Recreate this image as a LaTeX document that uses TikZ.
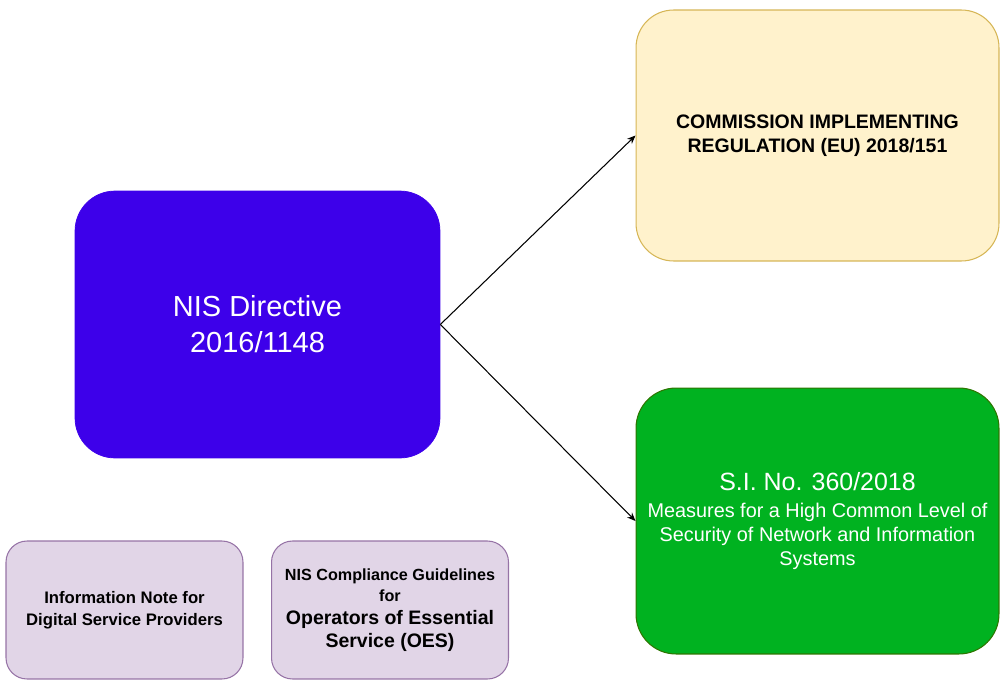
\documentclass[tikz,border=0pt]{standalone}
\usepackage{fontspec}
\setmainfont{Liberation Sans}
\usetikzlibrary{arrows.meta}

\definecolor{nisblue}{RGB}{61,0,234}
\definecolor{regfill}{RGB}{255,242,204}
\definecolor{regline}{RGB}{214,182,86}
\definecolor{sigreen}{RGB}{0,178,32}
\definecolor{siline}{RGB}{45,118,0}
\definecolor{notefill}{RGB}{225,213,231}
\definecolor{noteline}{RGB}{150,115,166}

\tikzset{
  nisbox/.style={rounded corners=0.8cm, fill=nisblue, draw=nisblue, text=white,
    minimum width=7.3cm, minimum height=5.34cm, align=center, inner sep=0pt,
    font=\fontsize{16.5}{20.5}\selectfont},
  regbox/.style={rounded corners=0.75cm, fill=regfill, draw=regline, line width=0.6pt,
    minimum width=7.26cm, minimum height=5.02cm, align=center, inner sep=0pt,
    font=\fontsize{11.1}{13.66}\selectfont\bfseries},
  sibox/.style={rounded corners=0.8cm, fill=sigreen, draw=siline, line width=0.6pt, text=white,
    minimum width=7.26cm, minimum height=5.32cm, align=center, inner sep=0pt,
    font=\fontsize{11.3}{13.66}\selectfont},
  notebox/.style={rounded corners=0.42cm, fill=notefill, draw=noteline, line width=0.6pt,
    minimum width=4.74cm, minimum height=2.76cm, align=center, inner sep=0pt,
    font=\fontsize{9.5}{12.5}\selectfont\bfseries},
  link/.style={line width=0.6pt, -{Stealth[length=1.7mm, width=1.4mm]}}
}

\begin{document}
\begin{tikzpicture}[x=0.02cm, y=0.02cm]
			%%%%% START %%%%%
			\useasboundingbox (0, 0) rectangle (1000, 681);
			
			\node[nisbox] (nis) at (257.5, 356.5) {NIS Directive\\ 2016/1148};
			
			\node[regbox] (reg) at (817.5, 545.5)
			{COMMISSION IMPLEMENTING\\ REGULATION (EU) 2018/151};
			
			\node[sibox] (si) at (817.5, 160)
			{{\fontsize{14.2}{15.4}\selectfont S.I. No. 360/2018}\\[1.5pt]
			 Measures for a High Common Level of\\
			 Security of Network and Information\\
			 Systems};
			
			\node[notebox] (dsp) at (124.5, 71)
			{Information Note for\\ Digital Service Providers};
			
			\node[notebox, font=\fontsize{9.2}{12}\selectfont\bfseries] (oes) at (390, 71)
			{NIS Compliance Guidelines\\ for\\[1pt]
			 {\fontsize{11.1}{12.5}\selectfont Operators of Essential}\\[1pt]
			 {\fontsize{11.1}{12.5}\selectfont Service (OES)}};
			
			\draw[link] (nis.east) -- (reg.west);
			\draw[link] (nis.east) -- (si.west);
			%%%%% END %%%%%
\end{tikzpicture}
\end{document}
